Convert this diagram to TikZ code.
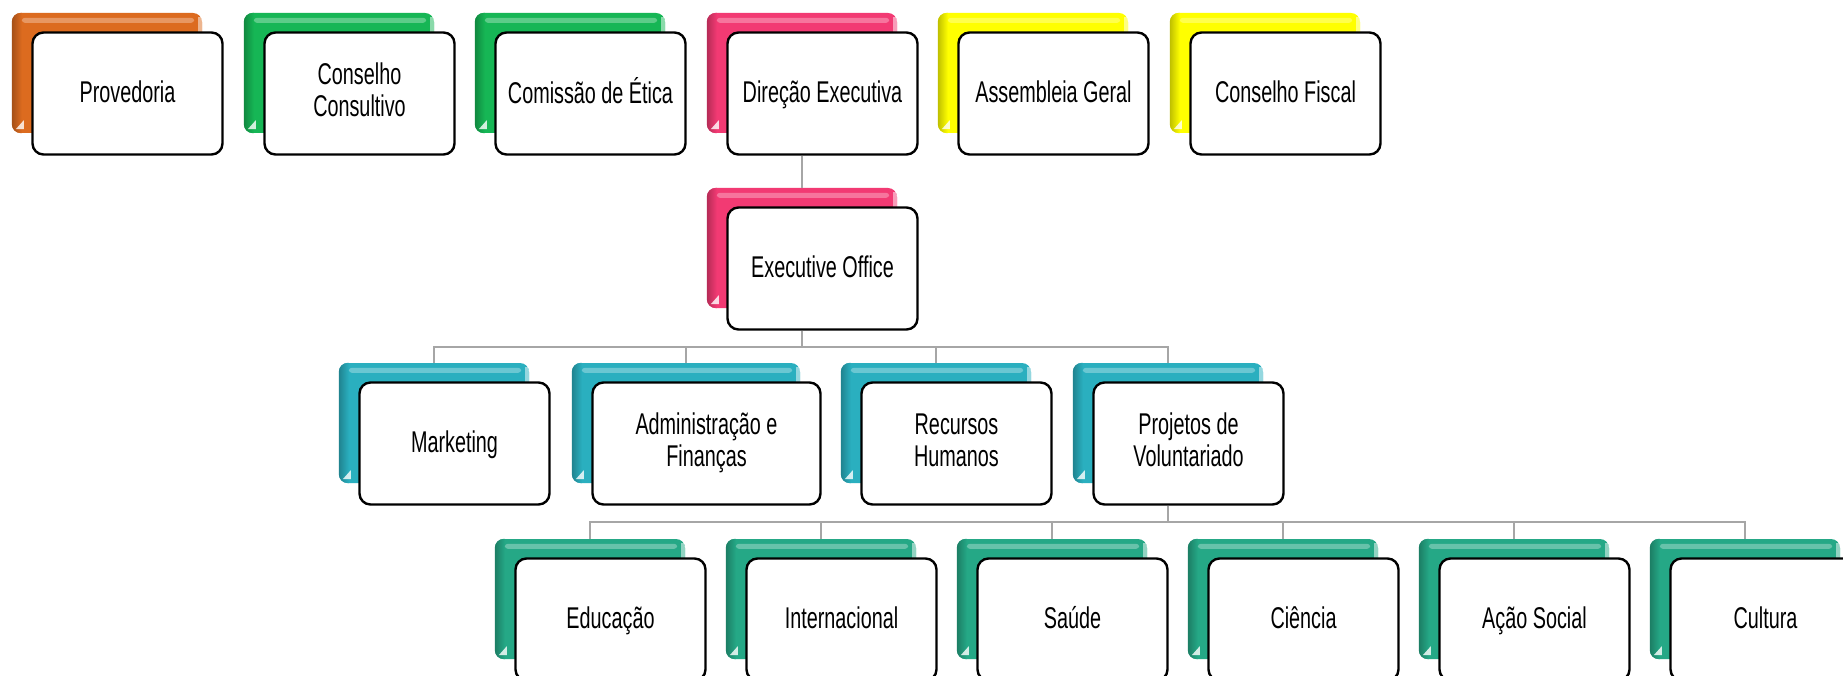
\documentclass[tikz,border=0pt]{standalone}
\usepackage{fontspec}
\setmainfont{Liberation Sans}[FakeStretch=0.66]
\usetikzlibrary{calc}
\definecolor{cOrange}{HTML}{DC6B1F}
\definecolor{cGreen}{HTML}{16B655}
\definecolor{cPink}{HTML}{F23A73}
\definecolor{cYellow}{HTML}{FFFF00}
\definecolor{cCyan}{HTML}{2AAFBF}
\definecolor{cTeal}{HTML}{25A886}
\definecolor{connGray}{HTML}{A6A6A6}
\newcommand\BoxStrut{\rule[-7pt]{0pt}{32pt}}
\tikzset{
  backbox/.style={draw=none, rounded corners=9pt, minimum height=120pt, inner sep=0pt},
  frontbox/.style={draw=black, fill=white, line width=2.4pt, rounded corners=11pt,
    minimum height=122pt, inner sep=0pt, align=center,
    font=\fontsize{30}{32}\selectfont,
    execute at begin node=\BoxStrut, execute at end node=\BoxStrut},
  conn/.style={draw=connGray, line width=2.5pt},
}
% name, x, y (back centre), width, colour, text
\newcommand\OrgUnit[6]{%
  \node[backbox, fill=#5, minimum width=#4pt] (#1b) at (#2,#3) {};
  \begin{scope}
    \clip[rounded corners=9pt] (#1b.north west) rectangle (#1b.south east);
    \shade[left color=#5!75!black, right color=#5] (#1b.north west) rectangle ($(#1b.south west)+(10,0)$);
    \fill[#5!70!white, rounded corners=3pt] ($(#1b.north west)+(10,5)$) rectangle ($(#1b.north east)+(-8,10)$);
    \fill[white, opacity=0.5] ($(#1b.north east)+(-4,4)$) rectangle ($(#1b.north east)+(0,22)$);
    \fill[white, opacity=0.8] ($(#1b.south west)+(4,-4)$) -- ($(#1b.south west)+(12,-4)$) -- ($(#1b.south west)+(12,-13)$) -- cycle;
  \end{scope}
  \node[frontbox, minimum width=#4pt] (#1) at ($(#1b.center)+(20.5,20.5)$) {#6};
}
\begin{document}
\begin{tikzpicture}[x=1pt, y=-1pt]
\clip (0,0) rectangle (1843,676);
\fill[white] (0,0) rectangle (1843,676);
% top row
\OrgUnit{prov}{107}{73}{190}{cOrange}{Provedoria}
\OrgUnit{ccons}{339}{73}{190}{cGreen}{Conselho\\Consultivo}
\OrgUnit{cetica}{570}{73}{190}{cGreen}{Comissão de Ética}
\OrgUnit{dir}{802}{73}{190}{cPink}{Direção Executiva}
\OrgUnit{ag}{1033}{73}{190}{cYellow}{Assembleia Geral}
\OrgUnit{cf}{1265}{73}{190}{cYellow}{Conselho Fiscal}
% executive office
\OrgUnit{exec}{802}{248}{190}{cPink}{Executive Office}
% second row
\OrgUnit{mkt}{434}{423}{190}{cCyan}{Marketing}
\OrgUnit{adm}{686}{423}{228}{cCyan}{Administração e\\Finanças}
\OrgUnit{rh}{936}{423}{190}{cCyan}{Recursos\\Humanos}
\OrgUnit{pv}{1168}{423}{190}{cCyan}{Projetos de\\Voluntariado}
% third row
\OrgUnit{edu}{590}{599}{190}{cTeal}{Educação}
\OrgUnit{int}{821}{599}{190}{cTeal}{Internacional}
\OrgUnit{sau}{1052}{599}{190}{cTeal}{Saúde}
\OrgUnit{cie}{1283}{599}{190}{cTeal}{Ciência}
\OrgUnit{aso}{1514}{599}{190}{cTeal}{Ação Social}
\OrgUnit{cul}{1745}{599}{190}{cTeal}{Cultura}
% connectors
\coordinate (bus1) at (802,347);
\coordinate (bus2) at (1168,522);
\draw[conn] (dirb.center |- dir.south) -- (execb.north);
\draw[conn] (execb.center |- exec.south) -- (bus1);
\draw[conn] (bus1) -| (mktb.north);
\draw[conn] (bus1) -| (admb.north);
\draw[conn] (bus1) -| (rhb.north);
\draw[conn] (bus1) -| (pvb.north);
\draw[conn] (pvb.center |- pv.south) -- (bus2);
\draw[conn] (bus2) -| (edub.north);
\draw[conn] (bus2) -| (intb.north);
\draw[conn] (bus2) -| (saub.north);
\draw[conn] (bus2) -| (cieb.north);
\draw[conn] (bus2) -| (asob.north);
\draw[conn] (bus2) -| (culb.north);
\end{tikzpicture}
\end{document}
